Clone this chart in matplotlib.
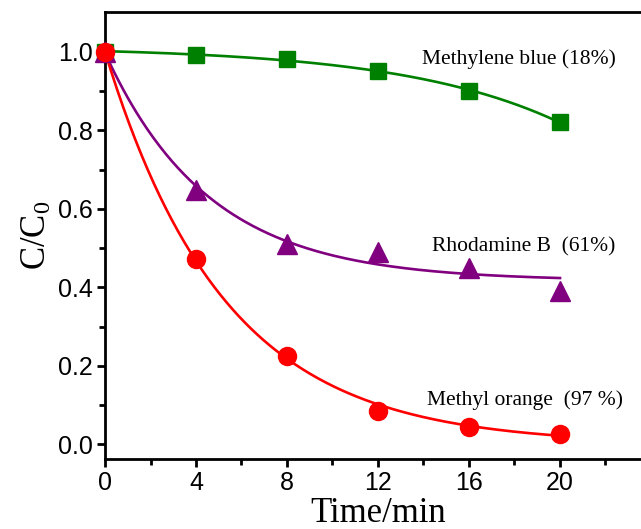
import numpy as np
import matplotlib
matplotlib.use("Agg")
import matplotlib.pyplot as plt
from matplotlib.ticker import FixedLocator

plt.rcParams["mathtext.fontset"] = "custom"
plt.rcParams["mathtext.rm"] = "Liberation Serif"
plt.rcParams["mathtext.it"] = "Liberation Serif:italic"

time = [0, 4, 8, 12, 16, 20]
methylene_blue = [1.0, 0.992, 0.981, 0.950, 0.901, 0.820]
rhodamine_b = [1.0, 0.648, 0.510, 0.490, 0.450, 0.390]
methyl_orange = [1.0, 0.472, 0.225, 0.085, 0.045, 0.027]

labels = ["Methylene blue (18%)", "Rhodamine B  (61%)", "Methyl orange  (97 %)"]
xticks = [0, 4, 8, 12, 16, 20]
yticks = [0.0, 0.2, 0.4, 0.6, 0.8, 1.0]

t = np.array(time, float)
tt = np.linspace(0, 20, 300)

def fit_exp(y, sign=-1):
    # y = a + b*exp(sign*k t), least squares over k grid
    y = np.array(y, float)
    best = None
    for k in np.linspace(0.005, 1.0, 2000):
        A = np.vstack([np.ones_like(t), np.exp(sign * k * t)]).T
        coef, *_ = np.linalg.lstsq(A, y, rcond=None)
        r = np.sum((A @ coef - y) ** 2)
        if best is None or r < best[0]:
            best = (r, k, coef)
    _, k, (a, b) = best
    return a + b * np.exp(sign * k * tt)

def fit_exp0(y):
    y = np.array(y, float)
    best = None
    for k in np.linspace(0.01, 1.0, 2000):
        r = np.sum((np.exp(-k * t) - y) ** 2)
        if best is None or r < best[0]:
            best = (r, k)
    return np.exp(-best[1] * tt)

green_fit = fit_exp(methylene_blue, sign=1)
purple_fit = fit_exp(rhodamine_b)
red_fit = fit_exp0(methyl_orange)

W, H = 641, 529
fig = plt.figure(figsize=(W / 100, H / 100), dpi=100)
left, right, top, bottom = 105, 651, 12, 459
ax = fig.add_axes([left / W, 1 - bottom / H, (right - left) / W, (bottom - top) / H])
ax.set_xlim(0, 24)
ax.set_ylim(-0.037, 1.101)

lw = 1.9
ax.plot(tt, green_fit, color="#008000", lw=lw, zorder=2)
ax.plot(tt, purple_fit, color="#800080", lw=lw, zorder=2)
ax.plot(tt, red_fit, color="#ff0000", lw=lw, zorder=2)
ax.plot(time, methylene_blue, "s", color="#008000", ms=11, zorder=3, clip_on=False)
ax.plot(time, rhodamine_b, "^", color="#800080", ms=15, zorder=3, clip_on=False)
ax.plot(time, methyl_orange, "o", color="#ff0000", ms=13, zorder=3, clip_on=False)

tf = {"family": "Liberation Serif", "size": 15.5}
ax.text(13.93, 0.969, labels[0], fontdict=tf)
ax.text(14.37, 0.492, labels[1], fontdict=tf)
ax.text(14.15, 0.100, labels[2], fontdict=tf)

ax.xaxis.set_major_locator(FixedLocator(xticks))
ax.xaxis.set_minor_locator(FixedLocator([2, 6, 10, 14, 18, 22]))
ax.yaxis.set_major_locator(FixedLocator(yticks))
ax.yaxis.set_minor_locator(FixedLocator([0.1, 0.3, 0.5, 0.7, 0.9]))
ax.set_xticklabels([str(v) for v in xticks])
ax.set_yticklabels([f"{v:.1f}" for v in yticks])
for lab in ax.get_xticklabels() + ax.get_yticklabels():
    lab.set_fontfamily("Liberation Sans")
    lab.set_fontsize(18)
ax.tick_params(which="major", direction="out", length=6, width=2, top=False, right=False, pad=3)
ax.tick_params(which="minor", direction="out", length=4, width=2, top=False, right=False)
for s in ax.spines.values():
    s.set_linewidth(2)

ax.set_xlabel("Time/min", family="Liberation Serif", fontsize=25, labelpad=1)
ax.set_ylabel("C/C$_0$", family="Liberation Serif", fontsize=25, labelpad=3)

fig.savefig("out.png", dpi=100)
